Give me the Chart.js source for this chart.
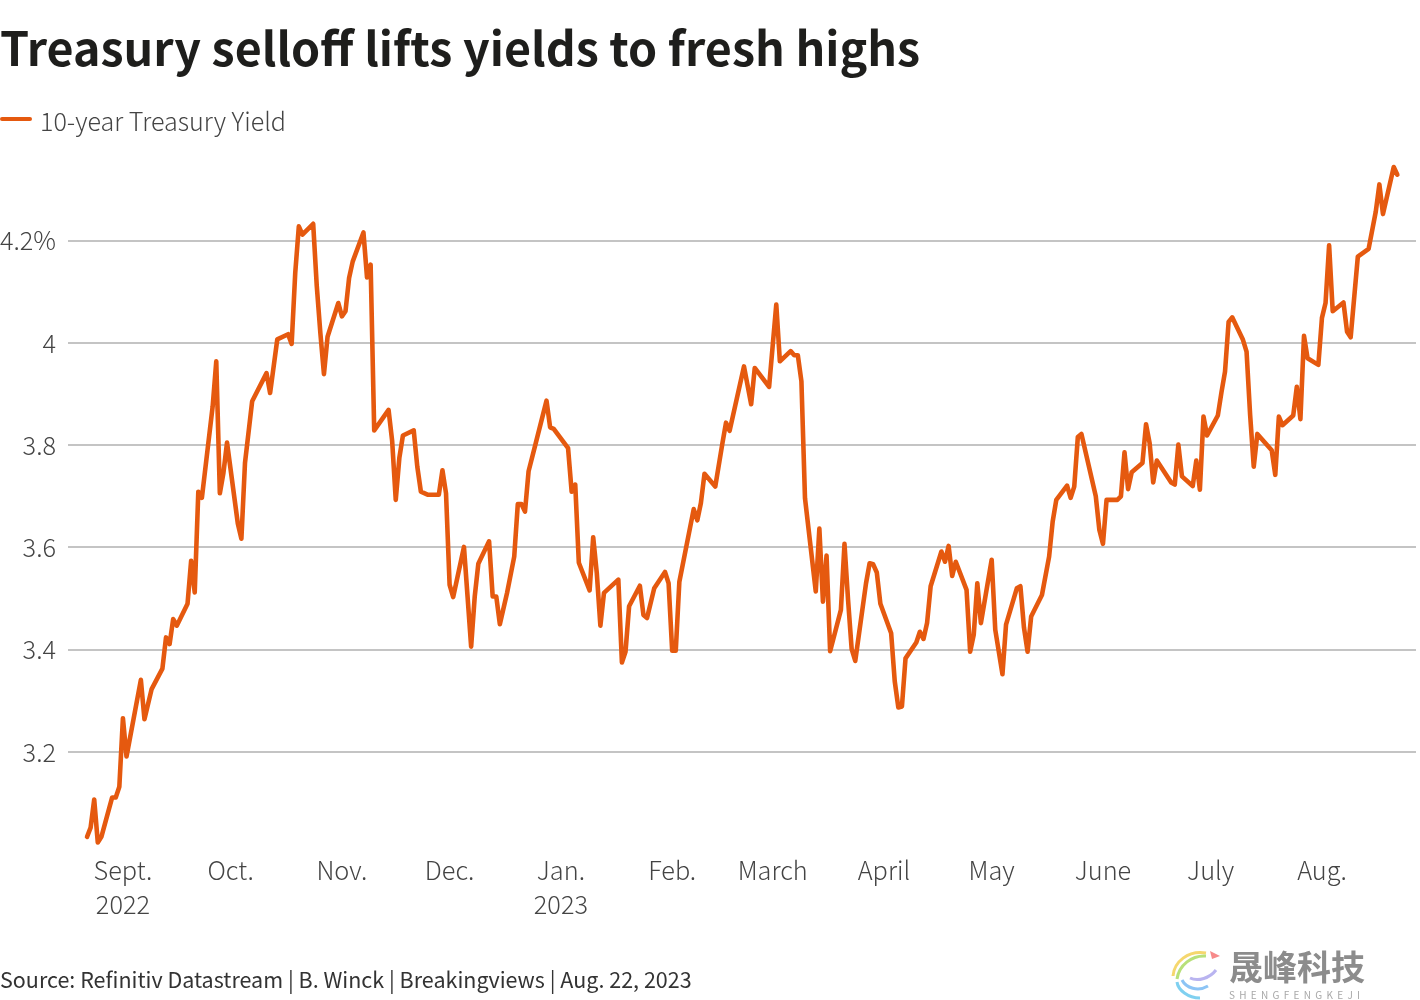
<!DOCTYPE html>
<html>
<head>
<meta charset="utf-8">
<title>Treasury selloff lifts yields to fresh highs</title>
<script src="https://cdn.jsdelivr.net/npm/chart.js@4"></script>
<style>
  html, body { margin: 0; padding: 0; background: #fff; }
  body { position: relative; width: 1420px; height: 1000px; overflow: hidden; font-family: "Noto Sans CJK SC", sans-serif; }
  canvas { position: absolute; left: 0; top: 0; }
  .abs { position: absolute; white-space: nowrap; }
  #title { left: 0; top: 14px; font-size: 46.6px; line-height: 64px; font-weight: 700; color: #1e1e1c; }
  #swatch { left: 0; top: 117px; width: 32px; height: 4px; border-radius: 2px; background: #e5590f; }
  #legend { left: 40px; top: 102px; font-size: 25.1px; line-height: 36px; font-weight: 300; color: #444; }
  #source { left: 0; top: 963px; font-size: 21.5px; line-height: 32px; color: #333; }
  #markCn { left: 1229px; top: 944px; font-size: 34px; line-height: 44px; font-weight: 700; color: #8c8c8c; }
  #markEn { left: 1229px; top: 988px; font-size: 10px; line-height: 14px; letter-spacing: 4.3px; color: #a8a8a8; }
  #swirl { left: 1170px; top: 948px; }
</style>
</head>
<body>
<canvas id="yieldChart" width="1420" height="1000"></canvas>
<div class="abs" id="title">Treasury selloff lifts yields to fresh highs</div>
<div class="abs" id="swatch"></div>
<div class="abs" id="legend">10-year Treasury Yield</div>
<div class="abs" id="source">Source: Refinitiv Datastream | B. Winck | Breakingviews | Aug. 22, 2023</div>
<svg class="abs" id="swirl" width="56" height="52" viewBox="0 0 56 52" fill="none" stroke-width="3">
  <path d="M36 5C18 2 4 14 3 28" stroke="#f5d76e"/>
  <path d="M36 8C22 7 9 17 7 31" stroke="#b7e07a"/>
  <path d="M7 34C8 42 18 50 30 50" stroke="#7fd0f0"/>
  <path d="M12 32C16 40 28 44 38 38" stroke="#8cc4f5"/>
  <path d="M20 30C28 34 40 30 46 22" stroke="#b9b4f0"/>
  <path d="M40 3L50 8L42 11Z" fill="#f78a8a" stroke="none"/>
</svg>
<div class="abs" id="markCn">晟峰科技</div>
<div class="abs" id="markEn">SHENGFENGKEJI</div>

<script>
// days since Aug. 22, 2022
const days = [
  0, 1, 2, 3, 4, 7, 8, 9, 10, 11, 15, 16, 18, 21, 22, 23, 24, 25, 28, 29, 30, 31, 32, 35, 36, 37, 38, 39,
  42, 43, 44, 46, 50, 51, 53, 56, 57, 58, 59, 60, 63, 64, 65, 66, 67, 70, 71, 72, 73, 74, 77, 78, 79, 80,
  84, 85, 86, 87, 88, 91, 92, 93, 95, 98, 99, 100, 101, 102, 105, 106, 107, 108, 109, 112, 113, 114, 115,
  117, 119, 120, 121, 122, 123, 125, 128, 129, 130, 134, 135, 136, 137, 140, 141, 142, 143, 144, 148, 149,
  150, 151, 154, 155, 156, 158, 161, 162, 163, 164, 165, 169, 170, 171, 172, 175, 177, 178, 179, 183, 185,
  186, 190, 192, 193, 196, 197, 198, 199, 200, 203, 204, 205, 206, 207, 210, 211, 212, 213, 214, 217, 218,
  219, 220, 221, 224, 225, 226, 227, 228, 231, 232, 233, 234, 235, 238, 239, 240, 241, 242, 245, 246, 247,
  248, 249, 252, 253, 255, 256, 259, 260, 261, 262, 263, 266, 268, 269, 270, 273, 274, 275, 276, 277, 281,
  282, 283, 284, 287, 288, 289, 290, 291, 294, 295, 296, 297, 298, 302, 303, 304, 305, 308, 309, 310, 311,
  312, 315, 316, 317, 318, 319, 322, 323, 324, 325, 326, 330, 331, 332, 333, 336, 337, 338, 339, 340, 343,
  344, 345, 346, 347, 350, 351, 352, 354, 357, 359, 360, 361, 364, 365
];
const yields = [
  3.034, 3.052, 3.107, 3.023, 3.034, 3.111, 3.111, 3.132, 3.266, 3.191, 3.341, 3.264, 3.323, 3.363, 3.424, 3.411, 3.46, 3.447, 3.49, 3.574, 3.512, 3.709, 3.697, 3.876, 3.964, 3.706, 3.746, 3.805,
  3.647, 3.617, 3.765, 3.886, 3.941, 3.902, 4.007, 4.017, 3.998, 4.137, 4.228, 4.212, 4.233, 4.111, 4.019, 3.939, 4.012, 4.078, 4.052, 4.062, 4.127, 4.159, 4.216, 4.128, 4.153, 3.829,
  3.869, 3.808, 3.693, 3.775, 3.819, 3.829, 3.758, 3.709, 3.703, 3.703, 3.751, 3.706, 3.527, 3.503, 3.601, 3.504, 3.406, 3.504, 3.568, 3.612, 3.504, 3.504, 3.45,
  3.511, 3.582, 3.685, 3.685, 3.67, 3.749, 3.804, 3.887, 3.835, 3.832, 3.794, 3.709, 3.723, 3.57, 3.516, 3.62, 3.55, 3.447, 3.511, 3.537, 3.375,
  3.396, 3.485, 3.525, 3.468, 3.462, 3.52, 3.552, 3.53, 3.398, 3.398, 3.533, 3.675, 3.653, 3.687, 3.744, 3.719, 3.804, 3.844, 3.828, 3.954, 3.88,
  3.951, 3.914, 4.075, 3.964, 3.984, 3.976, 3.976, 3.925, 3.696, 3.514, 3.637, 3.494, 3.584, 3.397, 3.478, 3.607, 3.497, 3.401, 3.378, 3.53, 3.569,
  3.567, 3.551, 3.49, 3.432, 3.338, 3.287, 3.289, 3.383, 3.414, 3.435, 3.421, 3.452, 3.524, 3.592, 3.572, 3.603, 3.544, 3.572, 3.517, 3.396, 3.429,
  3.53, 3.452, 3.576, 3.439, 3.352, 3.449, 3.52, 3.524, 3.443, 3.396, 3.465, 3.507, 3.582, 3.651, 3.693, 3.721, 3.697, 3.719, 3.816, 3.822, 3.7,
  3.634, 3.607, 3.693, 3.693, 3.7, 3.786, 3.714, 3.747, 3.765, 3.841, 3.804, 3.727, 3.77, 3.727, 3.723, 3.801, 3.739, 3.72, 3.77, 3.713, 3.856,
  3.819, 3.858, 3.903, 3.944, 4.041, 4.05, 4.006, 3.983, 3.859, 3.758, 3.822, 3.79, 3.742, 3.856, 3.839, 3.858, 3.914, 3.851, 4.014, 3.97, 3.957,
  4.049, 4.078, 4.191, 4.062, 4.079, 4.022, 4.011, 4.169, 4.184, 4.257, 4.31, 4.252, 4.344, 4.329
];
const monthDays = [10, 40, 71, 101, 132, 163, 191, 222, 252, 283, 313, 344];
const monthLabels = [["Sept.", "2022"], "Oct.", "Nov.", "Dec.", ["Jan.", "2023"], "Feb.", "March", "April", "May", "June", "July", "Aug."];
const yTicks = [3.2, 3.4, 3.6, 3.8, 4, 4.2];

const axisFont = { family: '"Noto Sans CJK SC", sans-serif', size: 25.3, weight: "300", lineHeight: 1.34 };

new Chart(document.getElementById("yieldChart"), {
    type: "line",
    data: {
        datasets: [
            {
                label: "10-year Treasury Yield",
                data: days.map((d, i) => ({ x: d, y: yields[i] })),
                borderColor: "#e5590f",
                borderWidth: 4.6,
                borderJoinStyle: "round",
                borderCapStyle: "round",
                pointRadius: 0,
                tension: 0,
            },
        ],
    },
    options: {
        responsive: false,
        animation: false,
        layout: { padding: { top: 138.4, right: 4, bottom: 0, left: 0 } },
        plugins: { legend: { display: false }, tooltip: { enabled: false } },
        scales: {
            x: {
                type: "linear",
                min: -5.3,
                max: 370.2,
                grid: { display: false },
                border: { display: false },
                afterBuildTicks: (scale) => {
                    scale.ticks = monthDays.map((value) => ({ value }));
                },
                afterFit: (scale) => {
                    scale.height = 145.8;
                },
                ticks: {
                    autoSkip: false,
                    maxRotation: 0,
                    padding: -9,
                    color: "#444",
                    font: axisFont,
                    callback: (value) => monthLabels[monthDays.indexOf(value)],
                },
            },
            y: {
                min: 3,
                max: 4.4,
                grid: { color: "#c4c4c4", lineWidth: 2, drawTicks: false },
                border: { display: false },
                afterBuildTicks: (scale) => {
                    scale.ticks = yTicks.map((value) => ({ value }));
                },
                afterFit: (scale) => {
                    scale.width = 68;
                },
                ticks: {
                    padding: 12,
                    color: "#444",
                    font: axisFont,
                    callback: (value) => (value === 4.2 ? "4.2%" : String(value)),
                },
            },
        },
    },
});
</script>
</body>
</html>
